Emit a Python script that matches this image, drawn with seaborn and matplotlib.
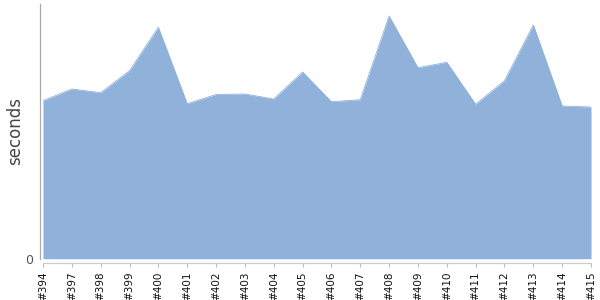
import numpy as np
import pandas as pd
import matplotlib
matplotlib.use("Agg")
import matplotlib.pyplot as plt
import seaborn as sns

builds = ["#394", "#397", "#398", "#399", "#400", "#401", "#402", "#403", "#404", "#405",
          "#406", "#407", "#408", "#409", "#410", "#411", "#412", "#413", "#414", "#415"]
seconds = [158.0, 169.7, 166.0, 188.0, 231.4, 155.0, 164.2, 164.7, 159.7, 186.7,
           157.0, 159.0, 242.7, 191.0, 196.4, 154.4, 178.0, 233.7, 152.7, 151.7]
y_top = 254.7

sns.set_theme(style="white")
plt.rcParams['font.family'] = ['DejaVu Sans']

df = pd.DataFrame({"pos": np.arange(len(builds)), "build": builds, "seconds": seconds})

fig = plt.figure(figsize=(6, 3), dpi=100)
ax = fig.add_axes([43/600, (300-258.7)/300, 548/600, 254.7/300])
color = "#8fb1da"
ax.fill_between(df["pos"], 0, df["seconds"], color=color, linewidth=0)
sns.lineplot(data=df, x="pos", y="seconds", ax=ax, color=color, linewidth=0.6)

ax.set_xlim(0, len(builds) - 1)
ax.set_ylim(0, y_top)
ax.set_xticks(df["pos"])
ax.set_xticklabels(builds)
ax.set_yticks([0])
ax.set_yticklabels(["0"])
ax.tick_params(axis="x", length=3, width=0.8, color="#bbbbbb", pad=3, direction="out",
               bottom=True, labelrotation=90, labelsize=7.5, labelcolor="#111111")
ax.tick_params(axis="y", length=0, pad=5, labelsize=9, labelcolor="#555555")
for lab in ax.get_xticklabels():
    lab.set_rotation(90)
    lab.set_va("top")
    lab.set_ha("center")

for s in ["top", "right"]:
    ax.spines[s].set_visible(False)
ax.spines["left"].set_color("#aaaaaa")
ax.spines["left"].set_linewidth(0.9)
ax.spines["left"].set_position(("outward", 2.2))
ax.spines["bottom"].set_color("#cccccc")
ax.spines["bottom"].set_linewidth(0.9)
ax.spines["bottom"].set_position(("outward", 3.2))

ax.set_xlabel("")
ax.set_ylabel("seconds", fontsize=12, color="#444444")
ax.yaxis.set_label_coords(-0.034, 0.5)

fig.savefig("out.png", dpi=100)
